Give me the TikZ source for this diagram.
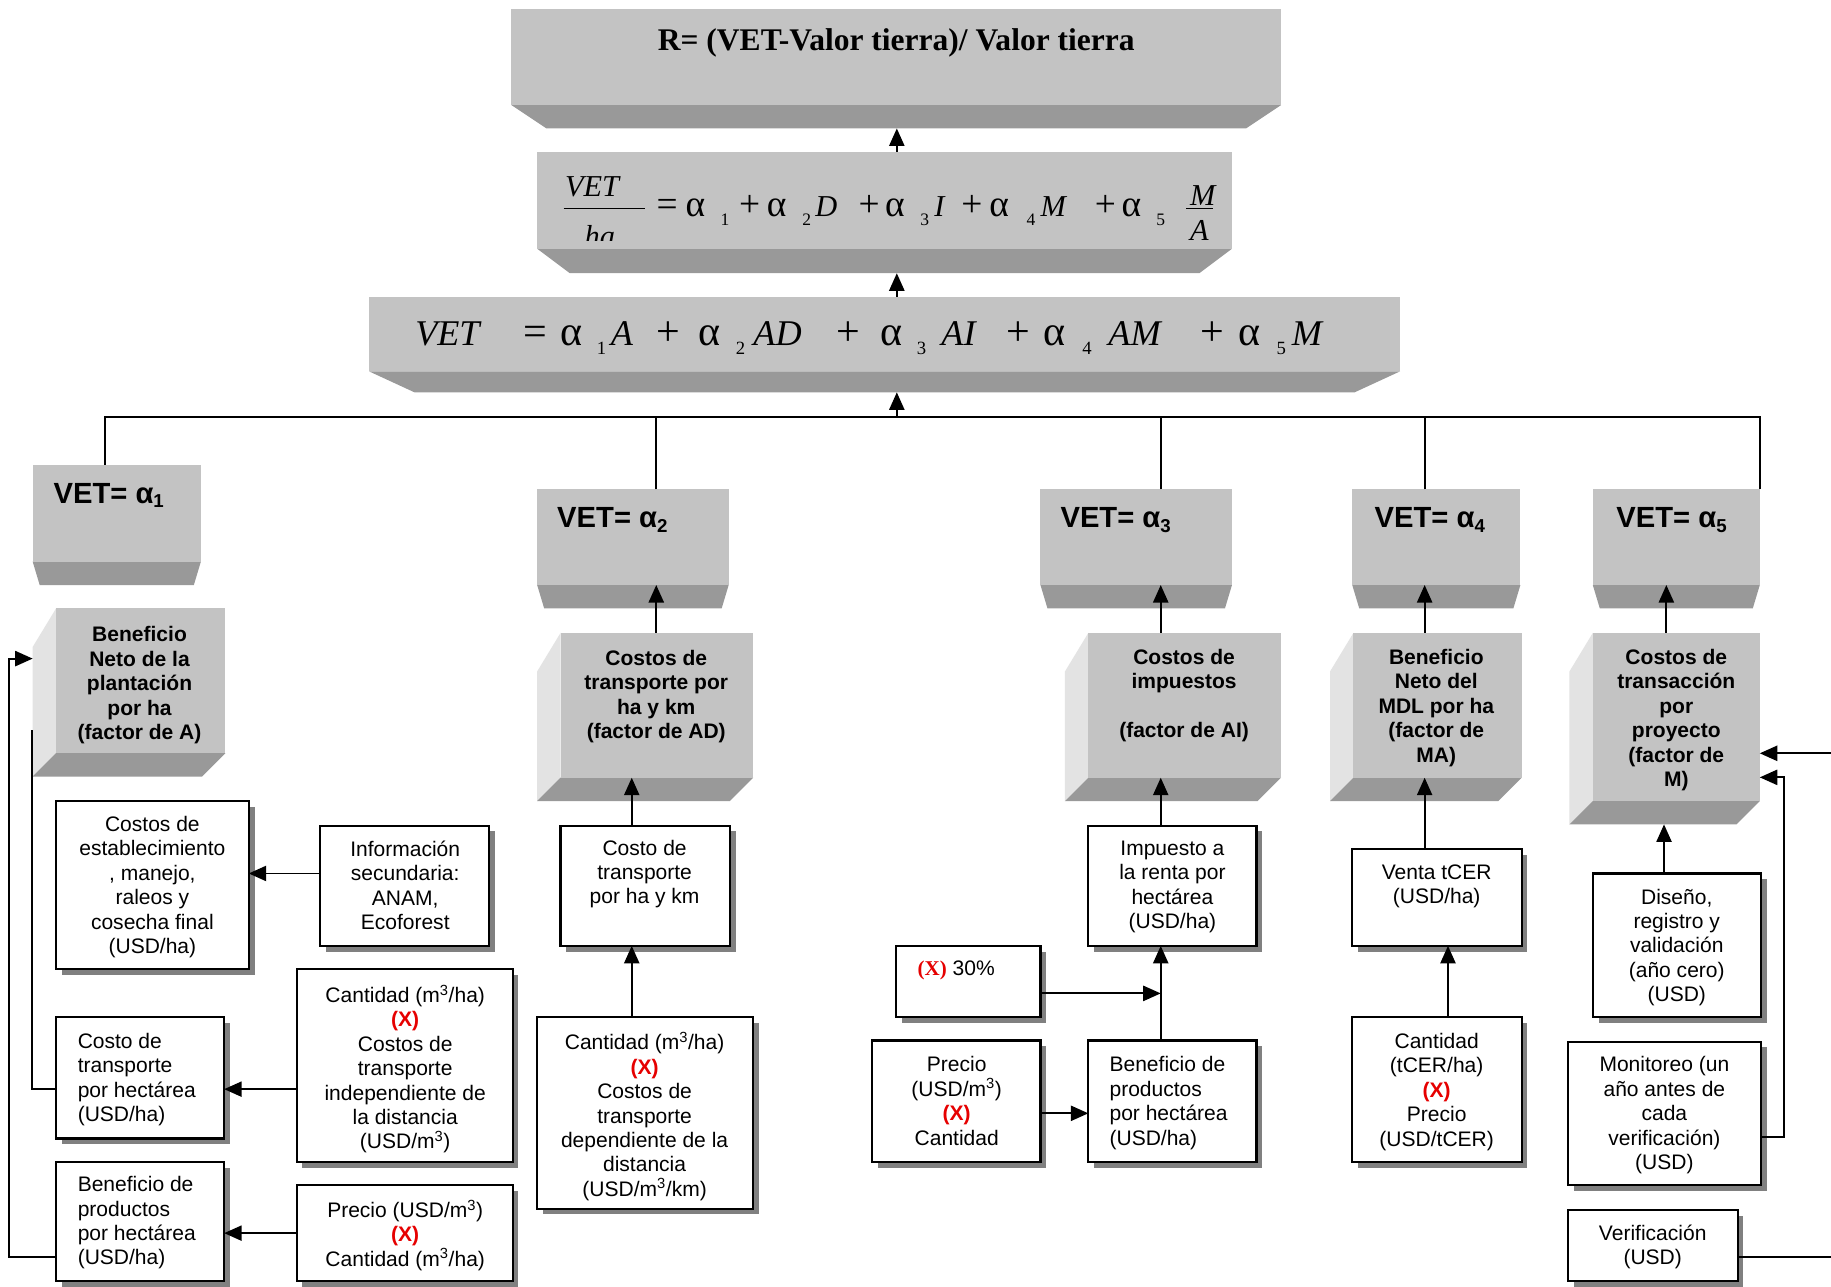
\documentclass[tikz,border=0pt]{standalone}
\usepackage{fontspec}
\setmainfont{Liberation Sans}
\newfontfamily\tnr{Liberation Serif}
\usetikzlibrary{arrows.meta,calc}
\definecolor{facegray}{RGB}{195,195,195}
\definecolor{bevelgray}{RGB}{153,153,153}
\definecolor{sidegray}{RGB}{227,227,227}
\definecolor{shadowgray}{RGB}{128,128,128}
\definecolor{xred}{RGB}{230,0,0}
\newcommand\fs[2]{\fontsize{#1}{#2}\selectfont}
\newcommand\rx{{\color{xred}\bfseries (X)}}
\newcommand\mc{m\textsuperscript{3}}
\tikzset{
 face/.style={fill=facegray, draw=none, inner sep=0pt, outer sep=0pt, anchor=north west},
 wbox/.style={draw=black, line width=1.8pt, fill=white, inner sep=0pt, outer sep=0pt, anchor=north west},
 txt/.style={inner sep=0pt, align=center, anchor=north, font=\fs{18}{20.9}},
 txtl/.style={inner sep=0pt, align=left, anchor=north west, font=\fs{18}{20.9}},
 ftxt/.style={inner sep=0pt, align=center, anchor=north, font=\bfseries\fs{18}{21}},
 vtxt/.style={inner sep=0pt, anchor=base west, font=\bfseries\fs{25}{28}},
 eqtok/.style={inner sep=0pt, anchor=base west},
 arr/.style={line width=1.6pt, -{Triangle[length=15pt,width=13pt]}},
 ln/.style={line width=1.6pt},
}
% white box with shadow: name x0 y0 x1 y1
\newcommand\wb[5]{\fill[shadowgray] (#2+5,#3+5) rectangle (#4+5,#5+5);
 \node[wbox, minimum width=#4-#2, minimum height=#5-#3] (#1) at (#2,#3) {};}
% big 3d box: name x0 y0 x1 y1 depth inset
\newcommand\bigbox[7]{\fill[bevelgray] (#2,#5) -- (#4,#5) -- (#4-#7,#5+#6) -- (#2+#7,#5+#6) -- cycle;
 \node[face, minimum width=#4-#2, minimum height=#5-#3] (#1) at (#2,#3) {};
 \coordinate (#1-b) at (#2,#5+#6);}
% factor box with side and bottom faces
\newcommand\facbox[5]{\fill[sidegray] (#2,#3) -- (#2-20,#3+33) -- (#2-20,#5+20) -- (#2,#5) -- cycle;
 \fill[bevelgray] (#2,#5) -- (#4,#5) -- (#4-20,#5+20) -- (#2-20,#5+20) -- cycle;
 \node[face, minimum width=#4-#2, minimum height=#5-#3] (#1) at (#2,#3) {};
 \coordinate (#1-b) at (#2,#5+20);
 \coordinate (#1-s) at (#2-20,#3);}
\begin{document}
\begin{tikzpicture}[x=1pt,y=-1pt]
\useasboundingbox[fill=white] (0,0) rectangle (1568,1102);
% ---------- top boxes
\bigbox{r}{438}{8}{1097}{90}{20}{30}
\bigbox{eqa}{460}{130}{1055}{213}{21}{28}
\bigbox{eqb}{316}{254}{1199}{318}{18}{39}
\node[inner sep=0pt, anchor=base, font=\tnr\bfseries\fs{27}{27}] (rt) at (767.5,43) {R= (VET-Valor tierra)/ Valor tierra};
% equation box 2
\node[eqtok, font=\tnr\itshape\fs{26}{26}] (ea0) at (483.7,168.4) {VET};
\draw[line width=1.1pt] (482.6,178.4) -- (552.5,178.4);
\draw[line width=1.1pt] (1016,178.4) -- (1039,178.4);
\node[eqtok, font=\tnr\itshape\fs{26}{26}] (eam) at (1019,175.6) {M};
\begin{scope}
\clip (470,140) rectangle (1050,206);
\node[eqtok, font=\tnr\itshape\fs{26}{26}] (eah) at (500.5,211) {ha};
\node[eqtok, font=\tnr\itshape\fs{26}{26}] (eaa) at (1019,206) {A};
\end{scope}
\foreach \x/\t [count=\i] in {698/D, 800/I, 891/M}
 \node[eqtok, font=\tnr\itshape\fs{26}{26}] (eai\i) at (\x,185.6) {\t};
\foreach \x/\t [count=\i] in {562/=, 587/α, 632.8/+, 656.5/α, 735/+, 757.8/α, 823/+, 847/α, 937.5/+, 960.4/α}
 \node[eqtok, font=\tnr\fs{32}{32}] (eau\i) at (\x,185.6) {\t};
\foreach \x/\t [count=\i] in {617/1, 687/2, 788/3, 879/4, 990/5}
 \node[eqtok, font=\tnr\fs{15}{15}] (eas\i) at (\x,192.7) {\t};
% equation box 3
\foreach \x/\t [count=\i] in {355.4/VET, 523/A, 645/AD, 806/AI, 949/AM, 1106/M}
 \node[eqtok, font=\tnr\itshape\fs{31}{31}] (ebi\i) at (\x,295.5) {\t};
\foreach \x/\t [count=\i] in {448/=, 479.6/α, 562/+, 598/α, 716.5/+, 753.6/α, 862/+, 893/α, 1027.7/+, 1060/α}
 \node[eqtok, font=\tnr\fs{36}{36}] (ebu\i) at (\x,295.5) {\t};
\foreach \x/\t [count=\i] in {511/1, 630/2, 785/3, 926.6/4, 1093/5}
 \node[eqtok, font=\tnr\fs{16}{16}] (ebs\i) at (\x,304) {\t};
% ---------- alpha boxes
\bigbox{a1}{28}{398}{172}{481}{20}{6}
\bigbox{a2}{460}{419}{624}{501}{20}{6}
\bigbox{a3}{891}{419}{1055}{501}{20}{6}
\bigbox{a4}{1158}{419}{1302}{501}{20}{6}
\bigbox{a5}{1364}{419}{1507}{501}{20}{6}
\node[vtxt] (t1) at (45.7,431) {VET= α\raisebox{-4pt}{\fs{16}{16}1}};
\node[vtxt] (t2) at (477,452) {VET= α\raisebox{-4pt}{\fs{16}{16}2}};
\node[vtxt] (t3) at (908,452) {VET= α\raisebox{-4pt}{\fs{16}{16}3}};
\node[vtxt] (t4) at (1177,452) {VET= α\raisebox{-4pt}{\fs{16}{16}4}};
\node[vtxt] (t5) at (1384,452) {VET= α\raisebox{-4pt}{\fs{16}{16}5}};
% ---------- factor boxes
\facbox{fA}{48}{521}{193}{645}
\facbox{fAD}{480}{542}{645}{666}
\facbox{fAI}{932}{542}{1097}{666}
\facbox{fMA}{1159}{542}{1303}{666}
\facbox{fM}{1364}{542}{1507}{686}
\node[ftxt] (ftA) at (119.5,549.5-13.2) {Beneficio\\Neto de la\\plantación\\por ha\\(factor de A)};
\node[ftxt] (ftAD) at (562,569.5-13.2) {Costos de\\transporte por\\ha y km\\(factor de AD)};
\node[ftxt] (ftAI) at (1014,568.6-13.2) {Costos de\\impuestos\\\mbox{}\\(factor de AI)};
\node[ftxt] (ftMA) at (1230,568.6-13.2) {Beneficio\\Neto del\\MDL por ha\\(factor de\\MA)};
\node[ftxt] (ftM) at (1435.5,568.6-13.2) {Costos de\\transacción\\por\\proyecto\\(factor de\\M)};
% ---------- white boxes
\wb{cest}{48}{686}{213}{830}
\wb{info}{274}{707}{419}{810}
\wb{ctrans}{48}{871}{192}{975}
\wb{cantA}{254}{830}{439}{995}
\wb{bprod}{48}{995}{192}{1097}
\wb{precA}{254}{1015}{439}{1097}
\wb{ctkm}{480}{707}{625}{810}
\wb{cantD}{460}{871}{645}{1035}
\wb{imp}{932}{707}{1076}{810}
\wb{pct}{767}{810}{891}{871}
\wb{precI}{747}{891}{891}{995}
\wb{bprodI}{932}{891}{1076}{995}
\wb{venta}{1158}{727}{1303}{810}
\wb{cantM}{1158}{871}{1303}{995}
\wb{dis}{1364}{748}{1508}{871}
\wb{mon}{1343}{892}{1508}{1015}
\wb{ver}{1343}{1036}{1488}{1097}
\node[txt] (x1) at (130.5,712-13.2) {Costos de\\establecimiento\\, manejo,\\raleos y\\cosecha final\\(USD/ha)};
\node[txt] (x2) at (347,733-13.2) {Información\\secundaria:\\ANAM,\\Ecoforest};
\node[txtl] (x3) at (66.4,897.8-13.2) {Costo de\\transporte\\por hectárea\\(USD/ha)};
\node[txt] (x4) at (347,856.4-13.2) {Cantidad (\mc/ha)\\\rx\\Costos de\\transporte\\independiente de\\la distancia\\(USD/\mc)};
\node[txtl] (x5) at (66.4,1020.5-13.2) {Beneficio de\\productos\\por hectárea\\(USD/ha)};
\node[txt] (x6) at (347,1040.5-13.2) {Precio (USD/\mc)\\\rx\\Cantidad (\mc/ha)};
\node[txt] (x7) at (552,732.2-13.2) {Costo de\\transporte\\por ha y km};
\node[txt] (x8) at (552,897-13.2) {Cantidad (\mc/ha)\\\rx\\Costos de\\transporte\\dependiente de la\\distancia\\(USD/\mc/km)};
\node[txt] (x9) at (1004,733-13.2) {Impuesto a\\la renta por\\hectárea\\(USD/ha)};
\node[eqtok, font=\fs{18}{20.9}] (x10) at (785.6,835.5) {{\tnr\bfseries\color{xred}(X)} 30\%};
\node[txt] (x11) at (819.3,917.8-13.2) {Precio\\(USD/\mc)\\\rx\\Cantidad};
\node[txtl] (x12) at (950,917.8-13.2) {Beneficio de\\productos\\por hectárea\\(USD/ha)};
\node[txt] (x13) at (1230.3,753.6-13.2) {Venta tCER\\(USD/ha)};
\node[txt] (x14) at (1230.3,897.8-13.2) {Cantidad\\(tCER/ha)\\\rx\\Precio\\(USD/tCER)};
\node[txt] (x15) at (1435.9,774.2-13.2) {Diseño,\\registro y\\validación\\(año cero)\\(USD)};
\node[txt] (x16) at (1425.3,917.8-13.2) {Monitoreo (un\\año antes de\\cada\\verificación)\\(USD)};
\node[txt] (x17) at (1415.3,1061.9-13.2) {Verificación\\(USD)};
% ---------- helper coordinates
\coordinate (X768) at (768,0);
\coordinate (X90) at (90,0);
\coordinate (X562) at (562,0);
\coordinate (X994) at (994,0);
\coordinate (X1220) at (1220,0);
\coordinate (X1427) at (1427,0);
\coordinate (X541) at (541,0);
\coordinate (X1240) at (1240,0);
\coordinate (X1425) at (1425,0);
\coordinate (bus) at (768,357);
\coordinate (j) at (994,850.7);
\coordinate (Y953) at (0,953.4);
\coordinate (Y748) at (0,748);
\coordinate (Y933) at (0,932.7);
\coordinate (Y1056) at (0,1056);
\coordinate (m1) at (1528,973.4);
\coordinate (m2) at (1528,665.7);
\coordinate (e1) at (1568,1076.2);
\coordinate (e2) at (1568,645.1);
\coordinate (l1) at (27.5,932.7);
\coordinate (l2) at (27.5,625);
\coordinate (o1) at (7.4,1076.8);
\coordinate (o2) at (7.4,564);
% ---------- connectors
\draw[arr] (eqa.north -| X768) -- (r-b -| X768);
\draw[arr] (eqb.north -| X768) -- (eqa-b -| X768);
\draw[arr] (bus) -- (eqb-b -| bus);
\draw[ln] (a1.north -| X90) -- (X90 |- bus) -- (a5.north east |- bus) -- (a5.north east);
\draw[ln] (a2.north -| X562) -- (X562 |- bus);
\draw[ln] (a3.north -| X994) -- (X994 |- bus);
\draw[ln] (a4.north -| X1220) -- (X1220 |- bus);
\draw[arr] (fAD.north -| X562) -- (a2.south -| X562);
\draw[arr] (fAI.north -| X994) -- (a3.south -| X994);
\draw[arr] (fMA.north -| X1220) -- (a4.south -| X1220);
\draw[arr] (fM.north -| X1427) -- (a5.south -| X1427);
\draw[arr] (ctkm.north -| X541) -- (fAD.south -| X541);
\draw[arr] (cantD.north -| X541) -- (ctkm.south -| X541);
\draw[arr] (imp.north -| X994) -- (fAI.south -| X994);
\draw[arr] (bprodI.north -| X994) -- (imp.south -| X994);
\draw[arr] (pct.east |- j) -- (j);
\draw[arr] (precI.east |- Y953) -- (bprodI.west |- Y953);
\draw[arr] (venta.north -| X1220) -- (fMA.south -| X1220);
\draw[arr] (cantM.north -| X1240) -- (venta.south -| X1240);
\draw[arr] (dis.north -| X1425) -- (fM-b -| X1425);
\draw[arr] (mon.east |- m1) -- (m1) -- (m2) -- (fM.east |- m2);
\draw[ln] (ver.east |- e1) -- (e1);
\draw[arr] (e2) -- (fM.east |- e2);
\draw[arr] (info.west |- Y748) -- (cest.east |- Y748);
\draw[arr] (cantA.west |- Y933) -- (ctrans.east |- Y933);
\draw[arr] (precA.west |- Y1056) -- (bprod.east |- Y1056);
\draw[ln] (ctrans.west |- l1) -- (l1) -- (l2);
\draw[arr] (bprod.west |- o1) -- (o1) -- (o2) -- (fA-s |- o2);
\end{tikzpicture}
\end{document}
